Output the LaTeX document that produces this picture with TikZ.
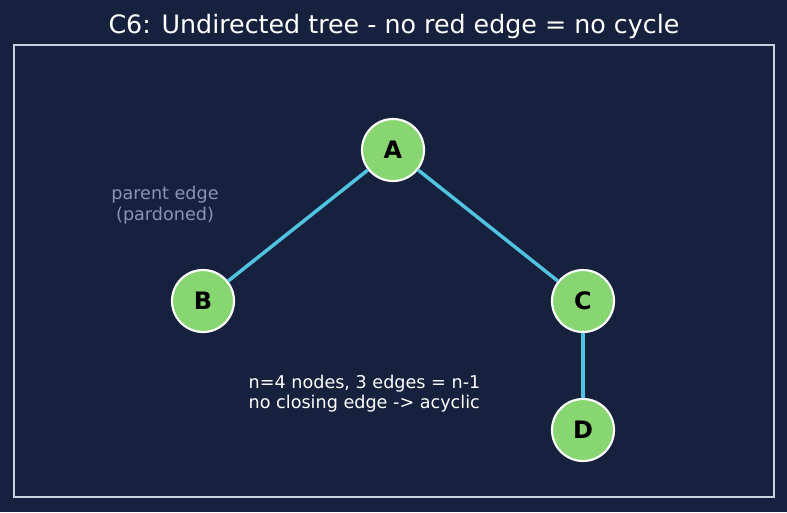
\documentclass[tikz,border=0pt]{standalone}
\usepackage{fontspec}
\setmainfont{DejaVu Sans}
\usetikzlibrary{positioning}
\definecolor{bgnavy}{HTML}{16213E}
\definecolor{framegray}{HTML}{C8D0E0}
\definecolor{nodegreen}{HTML}{88D672}
\definecolor{edgeblue}{HTML}{4FC3E0}
\definecolor{notegray}{HTML}{8A93B5}

\begin{document}
\begin{tikzpicture}[x=0.75pt, y=-0.75pt,
  vert/.style={circle, draw=white, line width=1.6pt, fill=nodegreen, minimum size=46.5pt, inner sep=0pt, font=\fontsize{18}{20}\selectfont\bfseries, text=black},
  tedge/.style={edgeblue, line width=2.6pt}
]
  % canvas and frame
  \fill[bgnavy] (0,0) rectangle (787,512);
  \useasboundingbox (0,0) rectangle (787,512);
  \draw[framegray, line width=1pt] (14,45) rectangle (774,497);
  \node[white, font=\fontsize{19}{22}\selectfont] (title) at (394,27) {C6: Undirected tree - no red edge = no cycle};

  % tree
  \node[vert] (a) at (393,150) {A};
  \node[vert] (b) at (203,301) {B};
  \node[vert] (c) at (583,301) {C};
  \node[vert] (d) at (583,430) {D};
  \draw[tedge] (a) -- (b);
  \draw[tedge] (a) -- (c);
  \draw[tedge] (c) -- (d);

  % notes
  \node[notegray, align=center, font=\fontsize{13.2}{15.8}\selectfont] (pnote) at (165,205) {parent edge\\(pardoned)};
  \node[white, align=left, anchor=west, font=\fontsize{13.2}{15}\selectfont] (summary) at (244,394) {n=4 nodes, 3 edges = n-1\\no closing edge -> acyclic};
\end{tikzpicture}
\end{document}
